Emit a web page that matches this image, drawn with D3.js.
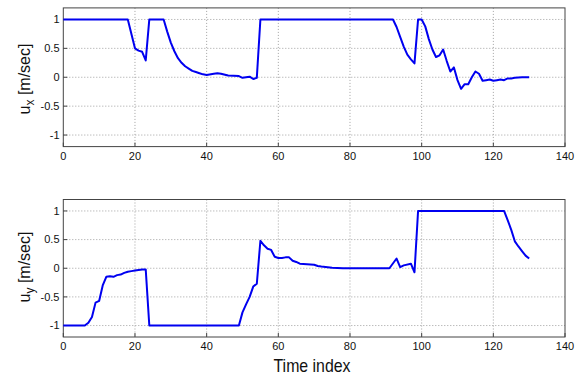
<!DOCTYPE html>
<html><head><meta charset="utf-8">
<script src="https://cdn.jsdelivr.net/npm/d3@7"></script>
<style>body{margin:0;background:#fff}svg{display:block}text{font-family:"Liberation Sans",Arial,sans-serif}</style>
</head><body><svg id="c" width="579" height="375"></svg>
<script>
const xTicks = [0,20,40,60,80,100,120,140];
const yTicks = [-1,-0.5,0,0.5,1];
const yTickLabels = ["-1","-0.5","0","0.5","1"];
const xLabel = "Time index";

const uxT = [0,18,20,21,22,23,24,28,29,30,31,32,33,34,35,36,37,38,39,40,42,43,44,46,49,50,51,52,53,54,55,92,93,94,95,96,97,98,99,100,101,102,103,104,105,106,107,108,109,110,111,112,113,114,115,116,117,118,119,120,121,122,123,124,125,126,128,130];
const uxV = [1,1,0.5,0.46,0.44,0.29,1,1,0.79,0.6,0.45,0.33,0.25,0.19,0.15,0.11,0.09,0.07,0.05,0.04,0.06,0.07,0.06,0.03,0.02,-0.01,0.0,0.01,-0.03,-0.01,1,1,0.87,0.7,0.53,0.39,0.31,0.24,1,1,0.88,0.66,0.48,0.35,0.38,0.48,0.28,0.1,0.17,-0.05,-0.2,-0.12,-0.12,0.0,0.1,0.06,-0.06,-0.05,-0.04,-0.06,-0.05,-0.04,-0.05,-0.02,-0.02,-0.01,0.0,0.0];

const uyT = [0,6,7,8,9,10,11,12,13,14,15,16,17,18,19,20,21,22,23,24,49,50,51,52,53,54,55,56,57,58,59,60,61,62,63,64,65,66,68,70,71,72,75,78,91,93,94,95,97,98,99,123,124,125,126,127,128,129,130];
const uyV = [-1,-1,-0.95,-0.85,-0.6,-0.57,-0.3,-0.15,-0.14,-0.15,-0.12,-0.11,-0.08,-0.06,-0.05,-0.04,-0.03,-0.02,-0.02,-1,-1,-0.77,-0.63,-0.5,-0.32,-0.27,0.48,0.4,0.34,0.32,0.2,0.18,0.18,0.19,0.19,0.13,0.11,0.08,0.07,0.06,0.04,0.03,0.01,0.0,0.0,0.17,0.02,0.05,0.08,-0.07,1,1,0.84,0.67,0.47,0.38,0.3,0.22,0.17];

const svg = d3.select("#c");
svg.append("rect").attr("width",579).attr("height",375).attr("fill","#fff");
const x = d3.scaleLinear().domain([0,140]).range([63.3,565]);

function panel(top, bottom, T, V, sub, labelY){
  const y = d3.scaleLinear().domain([-1.2,1.2]).range([bottom, top]);
  const g = svg.append("g");
  // grid
  g.selectAll(".gx").data(xTicks.slice(1,-1)).join("line")
    .attr("x1",d=>x(d)).attr("x2",d=>x(d)).attr("y1",top).attr("y2",bottom)
    .attr("stroke","#a0a0a0").attr("stroke-width",1).attr("stroke-dasharray","1,2");
  g.selectAll(".gy").data(yTicks).join("line")
    .attr("x1",x(0)).attr("x2",x(140)).attr("y1",d=>y(d)).attr("y2",d=>y(d))
    .attr("stroke","#a0a0a0").attr("stroke-width",1).attr("stroke-dasharray","1,2");
  // frame
  g.append("rect").attr("x",x(0)).attr("y",top).attr("width",x(140)-x(0)).attr("height",bottom-top)
    .attr("fill","none").attr("stroke","#444").attr("stroke-width",1);
  // ticks inward
  g.selectAll(".tx").data(xTicks).join("line")
    .attr("x1",d=>x(d)).attr("x2",d=>x(d)).attr("y1",bottom).attr("y2",bottom-4).attr("stroke","#444");
  g.selectAll(".ty").data(yTicks).join("line")
    .attr("x1",x(0)).attr("x2",x(0)+4).attr("y1",d=>y(d)).attr("y2",d=>y(d)).attr("stroke","#444");
  // tick labels
  g.selectAll(".lx").data(xTicks).join("text")
    .attr("x",d=>x(d)).attr("y",bottom+13).attr("text-anchor","middle")
    .attr("font-size",11).attr("fill","#111").text(d=>d);
  g.selectAll(".ly").data(yTicks).join("text")
    .attr("x",59.5).attr("y",d=>y(d)).attr("dy","0.35em").attr("text-anchor","end")
    .attr("font-size",11).attr("fill","#111").text((d,i)=>yTickLabels[i]);
  // line
  const line = d3.line().x((d,i)=>x(T[i])).y((d,i)=>y(V[i]));
  g.append("path").datum(V).attr("d",line).attr("fill","none")
    .attr("stroke","#0000f0").attr("stroke-width",2).attr("stroke-linejoin","round");
  // y label
  const t = g.append("text").attr("transform",`translate(29.5,${labelY}) rotate(-90)`)
    .attr("text-anchor","middle").attr("font-size",16).attr("fill","#111");
  t.append("tspan").text("u");
  t.append("tspan").attr("font-size",12).attr("dy",4).text(sub);
  t.append("tspan").attr("dy",-4).text(" [m/sec]");
}
panel(7.9,146.6,uxT,uxV,"x",79);
panel(199.5,337,uyT,uyV,"y",267);

svg.append("text").attr("x",312).attr("y",371.7).attr("text-anchor","middle")
  .attr("font-size",18.5).attr("textLength",77).attr("lengthAdjust","spacingAndGlyphs")
  .attr("fill","#111").text(xLabel);
</script></body></html>
